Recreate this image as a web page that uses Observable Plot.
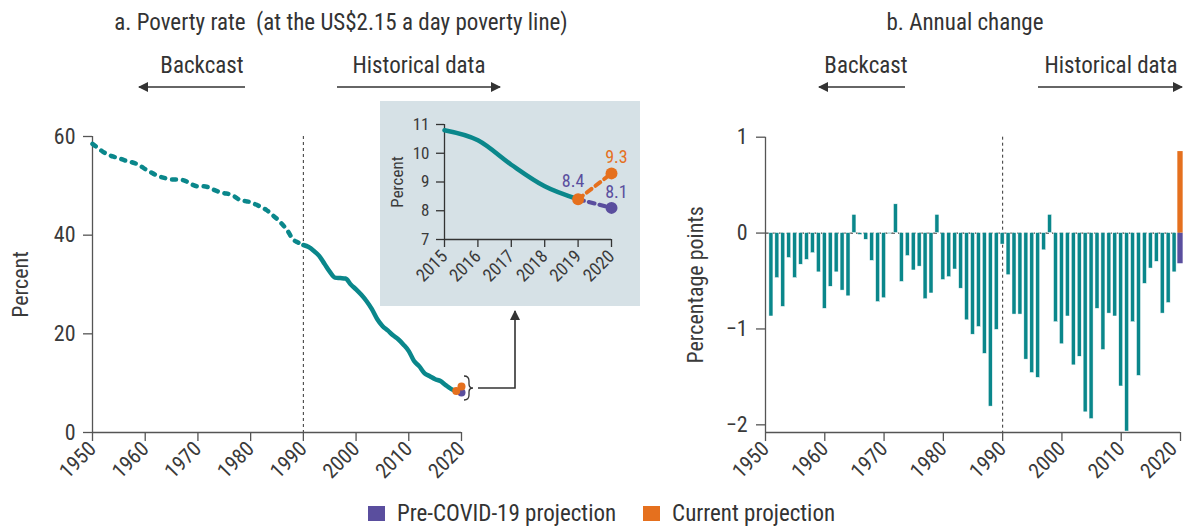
<!DOCTYPE html>
<html><head><meta charset="utf-8">
<script src="https://cdn.jsdelivr.net/npm/d3@7"></script>
<script src="https://cdn.jsdelivr.net/npm/@observablehq/plot@0.6"></script>
<style>
html,body{margin:0;padding:0;background:#fff;}
#root{position:relative;width:1184px;height:526px;overflow:hidden;background:#fff;
  font-family:"Liberation Sans Narrow","Arial Narrow","Roboto Condensed","DejaVu Sans Condensed",sans-serif;color:#333;}
.t{position:absolute;white-space:nowrap;font-size:23px;line-height:26px;transform:translateX(-50%);}
.p{position:absolute;}
#legend{position:absolute;left:368px;top:502px;display:flex;align-items:center;font-size:23px;line-height:23px;white-space:nowrap;}
#legend .sw{display:inline-block;width:17px;height:15px;margin-right:12px;}
#legend .it{display:flex;align-items:center;margin-right:27px;}
#ov{position:absolute;left:0;top:0;pointer-events:none;}
</style></head>
<body><div id="root">
<div class="t" style="left:341px;top:10px">a. Poverty rate&nbsp; (at the US$2.15 a day poverty line)</div>
<div class="t" style="left:202px;top:53px">Backcast</div>
<div class="t" style="left:419px;top:53px">Historical data</div>
<div class="t" style="left:965px;top:10px">b. Annual change</div>
<div class="t" style="left:866px;top:53px">Backcast</div>
<div class="t" style="left:1111px;top:53px">Historical data</div>
<div id="left" class="p" style="left:0;top:110px"></div>
<div id="right" class="p" style="left:600px;top:110px"></div>
<div id="inset" class="p" style="left:380px;top:101px"></div>
<svg id="ov" width="1184" height="526">
  <defs>
    <marker id="ah" viewBox="0 0 10 10" refX="9" refY="5" markerWidth="10" markerHeight="10" markerUnits="userSpaceOnUse" orient="auto">
      <path d="M0,0 L10,5 L0,10 z" fill="#333"/>
    </marker>
  </defs>
  <g stroke="#333" stroke-width="1.6" fill="none">
    <line x1="245" y1="87" x2="139" y2="87" marker-end="url(#ah)"/>
    <line x1="337" y1="87" x2="500" y2="87" marker-end="url(#ah)"/>
    <line x1="905" y1="87" x2="819" y2="87" marker-end="url(#ah)"/>
    <line x1="1038" y1="87" x2="1182" y2="87" marker-end="url(#ah)"/>
    <path d="M464,376 q5,0 5,5 v3 q0,4 4,4 q-4,0 -4,4 v3 q0,5 -5,5" stroke-width="1.3"/>
    <path d="M478,388 H515 V311" marker-end="url(#ah)"/>
  </g>
</svg>
<div id="legend">
  <div class="it"><span class="sw" style="background:#5a4e9e"></span>Pre-COVID-19 projection</div>
  <div class="it"><span class="sw" style="background:#e5701e"></span>Current projection</div>
</div>
</div>
<script>
// ---------------- data ----------------
const startYear = 1950;
// Poverty rate (%), 1950–2019 (1950–1990 backcast, 1990–2019 historical)
const povertyRate = [
  58.5, 57.7, 56.9, 56.3, 55.9, 55.6, 55.2, 54.9, 54.6, 54.1,
  53.4, 52.8, 52.2, 51.8, 51.5, 51.3, 51.3, 51.2, 50.8, 50.2,
  49.9, 49.9, 49.7, 49.2, 48.8, 48.5, 48.3, 47.8, 47.1, 46.9,
  46.7, 46.2, 45.7, 45.1, 44.2, 43.3, 42.2, 40.9, 39.2, 38.5,
  38.0, 37.6, 36.8, 35.8, 34.2, 32.6, 31.4, 31.3, 31.2, 30.0,
  29.0, 27.9, 26.6, 25.0, 23.0, 21.6, 20.7, 19.7, 18.9, 17.8,
  16.5, 14.5, 13.4, 12.0, 11.4, 10.8, 10.45, 9.6, 8.85, 8.4
];
// Annual change (percentage points), 1951–2019
const changeStartYear = 1951;
const annualChange = [
  -0.87, -0.47, -0.77, -0.26, -0.47, -0.33, -0.28, -0.21, -0.41, -0.79,
  -0.56, -0.41, -0.60, -0.66, 0.19, -0.02, -0.07, -0.29, -0.72, -0.68,
  -0.01, 0.30, -0.51, -0.24, -0.39, -0.35, -0.69, -0.63, 0.19, -0.49,
  -0.46, -0.38, -0.58, -0.91, -1.06, -0.98, -1.26, -1.81, -1.01, -0.12,
  -0.44, -0.85, -0.85, -1.32, -1.46, -1.51, -0.18, 0.19, -0.93, -1.16,
  -0.87, -1.38, -1.29, -1.87, -1.94, -0.79, -1.22, -0.84, -0.87, -1.60,
  -2.07, -0.93, -1.49, -0.53, -0.37, -0.30, -0.84, -0.73, -0.41
];
const projYear = 2020;
const projSeries = ["Pre-COVID-19 projection", "Current projection"];
const projRate = [8.1, 9.3];
const projChange = [-0.32, 0.85];
const projColors = ["#5a4e9e", "#e5701e"];
const splitYear = 1990;
const insetStart = 2015;
const xDomain = [1950, 2020];
const leftYDomain = [0, 60];
const rightYDomain = [-2.08, 1];
const insetXDomain = [2015, 2020];
const insetYDomain = [7, 11];
const xTicks = [1950, 1960, 1970, 1980, 1990, 2000, 2010, 2020];
const leftYTicks = [0, 20, 40, 60];
const rightYTicks = [-2, -1, 0, 1];
const insetXTicks = [2015, 2016, 2017, 2018, 2019, 2020];
const insetYTicks = [7, 8, 9, 10, 11];

// ---------------- derived tables ----------------
const TEAL = "#0a878b";
const AXIS = "#555";
const FONT = '"Liberation Sans Narrow","Arial Narrow","Roboto Condensed","DejaVu Sans Condensed",sans-serif';
const fmt = d => (d < 0 ? "\u2212" + Math.abs(d) : String(d));
const rate = povertyRate.map((v, i) => ({year: startYear + i, value: v}));
const backcast = rate.filter(d => d.year <= splitYear);
const hist = rate.filter(d => d.year >= splitYear);
const last = rate[rate.length - 1];
const changes = annualChange.map((v, i) => ({year: changeStartYear + i, value: v}));
const projPts = projSeries.map((s, i) => ({series: s, year: projYear, value: projRate[i]}));
const projLines = projSeries.flatMap((s, i) => [
  {series: s, year: last.year, value: last.value},
  {series: s, year: projYear, value: projRate[i]}
]);
const projBars = projSeries.map((s, i) => ({series: s, year: projYear, value: projChange[i]}));
const color = {domain: projSeries, range: projColors};
const baseStyle = {fontFamily: FONT, fontSize: "21px", color: "#3a3a3a", background: "transparent", overflow: "visible"};

// ---------------- panel a ----------------
const left = Plot.plot({
  width: 520, height: 380,
  marginLeft: 92, marginRight: 59, marginTop: 26, marginBottom: 58,
  x: {domain: xDomain},
  y: {domain: leftYDomain},
  color,
  style: baseStyle,
  marks: [
    Plot.ruleX([splitYear], {stroke: "#333", strokeWidth: 1, strokeDasharray: "3,3"}),
    Plot.ruleX([xDomain[0]], {stroke: AXIS, strokeWidth: 1.3}),
    Plot.ruleY([leftYDomain[0]], {stroke: AXIS, strokeWidth: 1.3}),
    Plot.axisY({ticks: leftYTicks, tickFormat: fmt, tickSize: 9, tickPadding: 8, stroke: AXIS, strokeWidth: 1.3,
      label: "Percent", labelAnchor: "center", labelArrow: "none", labelOffset: 80, fontSize: 22}),
    Plot.axisX({ticks: xTicks, tickFormat: d => String(d), tickRotate: -45, tickSize: 9, tickPadding: 4,
      stroke: AXIS, strokeWidth: 1.3, label: null}),
    Plot.line(backcast, {x: "year", y: "value", stroke: TEAL, strokeWidth: 4.5, strokeDasharray: "4,7", curve: "monotone-x"}),
    Plot.line(hist, {x: "year", y: "value", stroke: TEAL, strokeWidth: 4.5, curve: "monotone-x"}),
    Plot.line(projLines, {x: "year", y: "value", z: "series", stroke: "series", strokeWidth: 2.5}),
    Plot.dot(projPts, {x: "year", y: "value", fill: "series", r: 4}),
    Plot.dot([last], {x: "year", y: "value", fill: projColors[1], r: 4})
  ]
});
document.getElementById("left").append(left);

// ---------------- inset ----------------
const insetHist = rate.filter(d => d.year >= insetStart);
const inset = Plot.plot({
  width: 260, height: 205,
  marginLeft: 64, marginRight: 29, marginTop: 23, marginBottom: 67,
  x: {domain: insetXDomain},
  y: {domain: insetYDomain},
  color,
  style: {...baseStyle, background: "#d6e1e6", fontSize: "17px"},
  marks: [
    Plot.ruleX([insetXDomain[0]], {stroke: "#333", strokeWidth: 1.3}),
    Plot.ruleY([insetYDomain[0]], {stroke: "#333", strokeWidth: 1.3}),
    Plot.axisY({ticks: insetYTicks, tickFormat: d => String(d), tickSize: 8, tickPadding: 7, stroke: "#333", strokeWidth: 1.3,
      label: "Percent", labelAnchor: "center", labelArrow: "none", labelOffset: 54, fontSize: 17}),
    Plot.axisX({ticks: insetXTicks, tickFormat: d => String(d), tickRotate: -45, tickSize: 8, tickPadding: 6,
      stroke: "#333", strokeWidth: 1.3, label: null, fontSize: 18}),
    Plot.line(insetHist, {x: "year", y: "value", stroke: TEAL, strokeWidth: 4.5, curve: "monotone-x"}),
    Plot.line(projLines, {x: "year", y: "value", z: "series", stroke: "series", strokeWidth: 4, strokeDasharray: "6,5"}),
    Plot.dot([last], {x: "year", y: "value", fill: projColors[1], r: 6}),
    Plot.dot(projPts, {x: "year", y: "value", fill: "series", r: 6}),
    Plot.text([last], {x: "year", y: "value", text: d => d.value.toFixed(1), fill: projColors[0], dx: -5, dy: -18, fontSize: 18}),
    Plot.text(projPts, {x: "year", y: "value", text: d => d.value.toFixed(1), fill: "series", dx: 5, dy: -16, fontSize: 18})
  ]
});
document.getElementById("inset").append(inset);

// ---------------- panel b ----------------
const lastTick = xTicks[xTicks.length - 1];
const right = Plot.plot({
  width: 584, height: 380,
  marginLeft: 165, marginRight: 4, marginTop: 26.7, marginBottom: 58,
  x: {domain: xDomain},
  y: {domain: rightYDomain},
  color,
  style: baseStyle,
  marks: [
    Plot.ruleY([0], {stroke: "#444", strokeWidth: 1.2, strokeDasharray: "4,3"}),
    Plot.ruleX([splitYear], {stroke: "#333", strokeWidth: 1, strokeDasharray: "3,3"}),
    Plot.ruleX([xDomain[0]], {stroke: AXIS, strokeWidth: 1.3}),
    Plot.ruleY([rightYDomain[0]], {stroke: AXIS, strokeWidth: 1.3}),
    Plot.axisY({ticks: rightYTicks, tickFormat: fmt, tickSize: 9, tickPadding: 9, stroke: AXIS, strokeWidth: 1.3,
      label: "Percentage points", labelAnchor: "center", labelArrow: "none", labelOffset: 78, fontSize: 22}),
    // tick marks only
    Plot.axisX({ticks: xTicks, tickFormat: () => "", tickSize: 9, stroke: AXIS, strokeWidth: 1.3, label: null}),
    // tick labels
    Plot.axisX({ticks: xTicks.filter(t => t !== lastTick), tickFormat: d => String(d), tickRotate: -45, tickSize: 0, tickPadding: 13,
      label: null}),
    // last label nudged left so it stays inside the page
    Plot.axisX({ticks: [lastTick], tickFormat: d => String(d), tickRotate: -45, tickSize: 0, tickPadding: 13,
      label: null, dx: -7}),
    Plot.rectY(changes, {x1: d => d.year - 0.34, x2: d => d.year + 0.34, y1: 0, y2: "value",
      fill: TEAL, stroke: "white", strokeWidth: 0.5}),
    Plot.rectY(projBars, {x1: d => d.year - 0.45, x2: d => d.year + 0.45, y1: 0, y2: "value", fill: "series"})
  ]
});
document.getElementById("right").append(right);
</script>
</body></html>
